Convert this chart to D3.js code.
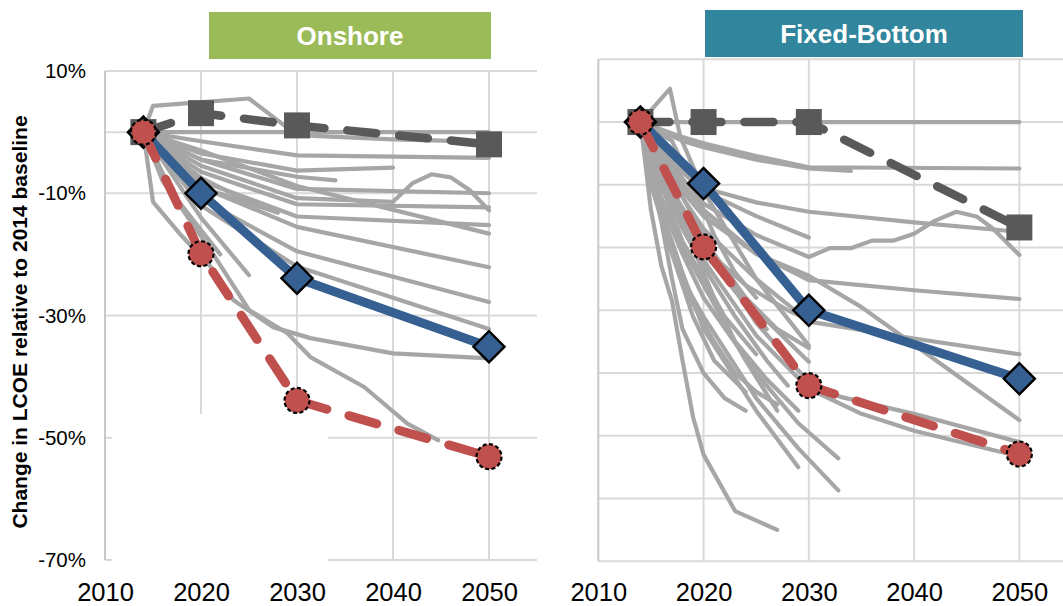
<!DOCTYPE html>
<html>
<head>
<meta charset="utf-8">
<script src="https://cdn.jsdelivr.net/npm/d3@7"></script>
<style>
  html, body { margin: 0; padding: 0; background: #ffffff; }
  svg { display: block; font-family: "Liberation Sans", Arial, sans-serif; }
</style>
</head>
<body>
<svg id="chart" width="1063" height="606"></svg>
<script>
// ---- data -------------------------------------------------------------
const xTicks = [2010, 2020, 2030, 2040, 2050];
const onshoreYTicks = [10, -10, -30, -50, -70];
const offshoreGrid = [10, 0, -10, -20, -30, -40, -50, -60, -70];
const keyYears = [2014, 2020, 2030, 2050];

// highlighted scenarios (% change vs 2014)
const onshoreHigh = [0, 3.1, 1.1, -2.0];
const onshoreMid  = [0, -10.0, -23.9, -35.1];
const onshoreLow  = [0, -19.9, -43.9, -53.1];

const offshoreHigh = [0, 0, 0, -16.8];
const offshoreMid  = [0, -9.8, -30.0, -40.9];
const offshoreLow  = [0, -19.9, -42.0, -52.9];

// individual study trajectories, [year, % change]
const onshoreStudies = [
  [[2014,0],[2015,4.3],[2025,5.5],[2030,-0.5],[2040,-1.2],[2050,-1.6]],
  [[2014,0],[2050,0]],
  [[2014,0],[2020,-1.5],[2030,-3.8],[2050,-4.2]],
  [[2014,0],[2020,-3.5],[2030,-6.3],[2040,-5.8]],
  [[2014,0],[2020,-4.5],[2030,-7.3],[2034,-7.9]],
  [[2014,0],[2020,-5.5],[2030,-10.8],[2040,-11.4],[2042,-8.4],[2044,-6.9],[2046,-7.4],[2048,-9.5],[2050,-12.8]],
  [[2014,0],[2020,-4.5],[2030,-9.3],[2050,-10]],
  [[2014,0],[2020,-6.5],[2030,-11.8],[2050,-12.3]],
  [[2014,0],[2020,-3],[2030,-8.8],[2050,-16.6]],
  [[2014,0],[2020,-8],[2030,-13.8],[2050,-15.2]],
  [[2014,0],[2020,-9],[2030,-15.5],[2050,-22.1]],
  [[2014,0],[2020,-11],[2030,-19.5],[2050,-27.8]],
  [[2014,0],[2020,-12],[2030,-22],[2050,-32.2]],
  [[2014,0],[2015,-11.4],[2018,-17],[2021,-22],[2023.4,-27.5],[2027.5,-31.9],[2031.4,-33.7],[2040,-36.2],[2050,-37]],
  [[2014,0],[2016,-8],[2021,-19.3],[2025,-29.1],[2029,-32.9],[2031.4,-36.8],[2037,-41.7],[2041.5,-47.7],[2044.7,-50.4]],
  [[2014,0],[2020,-14],[2025,-23.4]],
  [[2014,0],[2020,-7.5],[2026,-12.2]],
  [[2014,0],[2017,-10],[2020,-16],[2022,-20]],
  [[2014,0],[2020,-9],[2028,-13.2]]
];

const offshoreStudies = [
  [[2014,0],[2050,0]],
  [[2014,0],[2016.8,5.3],[2017.8,-2.4],[2020,-11],[2025,-25],[2030,-35.6]],
  [[2014,0],[2018,-2.4],[2020,-3.4],[2025,-5.4],[2030,-7.2],[2050,-7.4]],
  [[2014,0],[2018,-3],[2020,-4],[2025,-6],[2030,-7.4],[2034,-7.8]],
  [[2014,0],[2017,-6],[2020,-10.5],[2025,-12.8],[2030,-14.3],[2040,-16],[2050,-17.5]],
  [[2014,0],[2018,-8],[2020,-11],[2025,-15],[2030,-18.4]],
  [[2014,0],[2018,-9],[2020,-13],[2025,-18],[2030,-21.5],[2032,-20.1],[2034,-20.1],[2036,-18.9],[2038,-18.9],[2040,-17.8],[2042,-15.7],[2044,-14.3],[2046,-15.1],[2047.5,-17],[2050,-21.2]],
  [[2014,0],[2018,-10],[2020,-14],[2025,-21],[2030,-25.2],[2040,-26.8],[2050,-28.2]],
  [[2014,0],[2018,-11],[2020,-15],[2025,-21],[2030,-24.5],[2035,-29.5],[2040,-35.5],[2050,-47.5]],
  [[2014,0],[2018,-12],[2020,-17],[2025,-25],[2030,-31.8],[2040,-34.5],[2050,-37]],
  [[2014,0],[2017,-11],[2020,-19],[2025,-32],[2030,-41.5],[2033,-43.8],[2040,-46.5],[2050,-51]],
  [[2014,0],[2017,-13],[2020,-22],[2025,-34],[2030,-42.5],[2035,-46.5],[2040,-49.2],[2050,-53.3]],
  [[2014,0],[2018,-15],[2020,-21],[2025,-30],[2030,-38.2]],
  [[2014,0],[2016,-13],[2018,-21],[2020,-28],[2025,-40],[2029,-48],[2032.8,-53.6]],
  [[2014,0],[2016,-15],[2018,-25],[2020,-31],[2025,-44],[2029,-52],[2032.8,-58.7]],
  [[2014,0],[2016,-14],[2018,-24],[2020,-33],[2025,-46],[2029,-55]],
  [[2014,0],[2016,-12],[2018,-20],[2020,-26],[2024,-38],[2027,-46]],
  [[2014,0],[2015,-14],[2016,-23],[2017,-28.5],[2018,-38],[2019,-47],[2020,-53],[2023,-62],[2027,-65]],
  [[2014,0],[2016,-7],[2018,-14],[2020,-20],[2023,-27],[2026,-33]],
  [[2014,0],[2016,-9],[2018,-17],[2020,-23],[2023,-31],[2026,-38],[2028,-42]],
  [[2014,0],[2016,-10],[2018,-19],[2020,-25],[2022,-31],[2025,-37]],
  [[2014,0],[2015,-9],[2017,-20],[2019,-29],[2021,-35],[2023,-40],[2025,-43],[2027,-45]],
  [[2014,0],[2016,-8],[2018,-15],[2020,-20],[2024,-26],[2028,-30],[2030,-31.5]],
  [[2014,0],[2015,-10],[2017,-21],[2019,-31],[2021,-38],[2024,-43]],
  [[2014,0],[2017,-9],[2019,-15],[2021,-21],[2024,-28],[2027,-33],[2030,-36]],
  [[2014,0],[2015,-6],[2017,-12],[2019,-20],[2021,-28],[2023,-35],[2026,-41],[2029,-46]],
  [[2014,0],[2016,-16],[2017,-25],[2018,-33],[2020,-40],[2022,-44],[2024,-46]],
  [[2014,0],[2017,-3],[2019,-10],[2021,-18],[2023,-24],[2025,-28]]
];

// ---- drawing ----------------------------------------------------------
const svg = d3.select("#chart");
const GRID = "#d9d9d9", STUDY = "#a6a6a6";
const DARK = "#595959", BLUE = "#366092", RED = "#c0504d";

function panel(cfg) {
  const x = d3.scaleLinear().domain([2010, 2055]).range(cfg.xRange);
  const y = d3.scaleLinear().domain([-70, 10]).range(cfg.yRange);
  const g = svg.append("g");
  const [x0, x1] = cfg.xRange;
  const [yb, yt] = cfg.yRange;

  // horizontal gridlines
  g.append("g").selectAll("line").data(cfg.hGrid).join("line")
    .attr("x1", x0).attr("x2", x1)
    .attr("y1", d => y(d)).attr("y2", d => y(d))
    .attr("stroke", GRID).attr("stroke-width", 2);
  // vertical gridlines
  g.append("g").selectAll("line").data(xTicks.slice(1)).join("line")
    .attr("x1", d => x(d)).attr("x2", d => x(d))
    .attr("y1", yt).attr("y2", yb)
    .attr("stroke", GRID).attr("stroke-width", 2);
  // zero axis line and value axis
  g.append("line").attr("x1", x0).attr("x2", x1)
    .attr("y1", y(0)).attr("y2", y(0))
    .attr("stroke", GRID).attr("stroke-width", 2);
  g.append("line").attr("x1", x0).attr("x2", x0)
    .attr("y1", yt).attr("y2", yb)
    .attr("stroke", "#c8c8c8").attr("stroke-width", 2);

  // x tick labels
  const xAxis = d3.axisBottom(x).tickValues(xTicks).tickFormat(d3.format("d")).tickSize(0).tickPadding(0);
  const xa = g.append("g").attr("transform", `translate(0,${cfg.xLabelY})`).call(xAxis);
  xa.select(".domain").remove();
  xa.selectAll("text").attr("font-size", 25.5).attr("fill", "#000").attr("dy", 0)
    .attr("font-family", "Liberation Sans, Arial, sans-serif");

  // y tick labels
  if (cfg.yLabels) {
    const yAxis = d3.axisLeft(y).tickValues(cfg.yLabels).tickFormat(d => d + "%").tickSize(0).tickPadding(0);
    const ya = g.append("g").attr("transform", `translate(${cfg.yLabelX},0)`).call(yAxis);
    ya.select(".domain").remove();
    ya.selectAll("text").attr("font-size", 20.5).attr("fill", "#000")
      .attr("font-family", "Liberation Sans, Arial, sans-serif");
  }

  const line = d3.line().x(d => x(d[0])).y(d => y(d[1]));

  // study trajectories
  g.append("g").selectAll("path").data(cfg.studies).join("path")
    .attr("d", line).attr("fill", "none")
    .attr("stroke", STUDY).attr("stroke-width", 4.2)
    .attr("stroke-linejoin", "round").attr("stroke-linecap", "round");

  const pts = vals => keyYears.map((yr, i) => [yr, vals[i]]);

  // high-cost scenario
  g.append("path").attr("d", line(pts(cfg.high))).attr("fill", "none")
    .attr("stroke", DARK).attr("stroke-width", 8.5)
    .attr("stroke-dasharray", "29,23").attr("stroke-linecap", "round");
  g.append("g").selectAll("path").data(pts(cfg.high)).join("path")
    .attr("d", d3.symbol(d3.symbolSquare, 26 * 26))
    .attr("transform", d => `translate(${x(d[0])},${y(d[1])})`)
    .attr("fill", DARK);

  // median scenario
  g.append("path").attr("d", line(pts(cfg.mid))).attr("fill", "none")
    .attr("stroke", BLUE).attr("stroke-width", 9).attr("stroke-linejoin", "round");
  g.append("g").selectAll("path").data(pts(cfg.mid)).join("path")
    .attr("d", d3.symbol(d3.symbolSquare, 22 * 22))
    .attr("transform", d => `translate(${x(d[0])},${y(d[1])}) rotate(45)`)
    .attr("fill", BLUE).attr("stroke", "#000").attr("stroke-width", 2.4);

  // low-cost scenario
  g.append("path").attr("d", line(pts(cfg.low))).attr("fill", "none")
    .attr("stroke", RED).attr("stroke-width", 9)
    .attr("stroke-dasharray", "29,23").attr("stroke-linecap", "round");
  g.append("g").selectAll("circle").data(pts(cfg.low)).join("circle")
    .attr("cx", d => x(d[0])).attr("cy", d => y(d[1])).attr("r", 12.5)
    .attr("fill", RED).attr("stroke", "#000").attr("stroke-width", 2.2)
    .attr("stroke-dasharray", "4,2.5");

  return { g, x, y };
}

const left = panel({
  xRange: [105, 537], yRange: [560, 71],
  hGrid: onshoreYTicks, yLabels: onshoreYTicks, yLabelX: 86,
  xLabelY: 601, studies: onshoreStudies,
  high: onshoreHigh, mid: onshoreMid, low: onshoreLow
});
// blank patch over the lower-left of the onshore plot
left.g.append("rect").attr("x", 112).attr("y", 414).attr("width", 216).attr("height", 153)
  .attr("fill", "#ffffff");

panel({
  xRange: [598.3, 1072], yRange: [561.3, 59.3],
  hGrid: offshoreGrid, yLabels: null,
  xLabelY: 601, studies: offshoreStudies,
  high: offshoreHigh, mid: offshoreMid, low: offshoreLow
});

// panel headers
const headers = [
  { text: "Onshore", x: 209, w: 282, y: 12, h: 47, fill: "#9bbb59" },
  { text: "Fixed-Bottom", x: 705, w: 318, y: 10, h: 47, fill: "#31859c" }
];
const hg = svg.append("g").selectAll("g").data(headers).join("g");
hg.append("rect").attr("x", d => d.x).attr("y", d => d.y)
  .attr("width", d => d.w).attr("height", d => d.h).attr("fill", d => d.fill);
hg.append("text").attr("x", d => d.x + d.w / 2).attr("y", d => d.y + d.h / 2)
  .attr("text-anchor", "middle").attr("dominant-baseline", "central")
  .attr("font-size", 26).attr("font-weight", "bold").attr("fill", "#ffffff")
  .text(d => d.text);

// value axis title
svg.append("text")
  .attr("transform", "translate(19,322) rotate(-90)")
  .attr("text-anchor", "middle").attr("dominant-baseline", "central")
  .attr("font-size", 21).attr("font-weight", "bold").attr("fill", "#000")
  .text("Change in LCOE relative to 2014 baseline");
</script>
</body>
</html>
